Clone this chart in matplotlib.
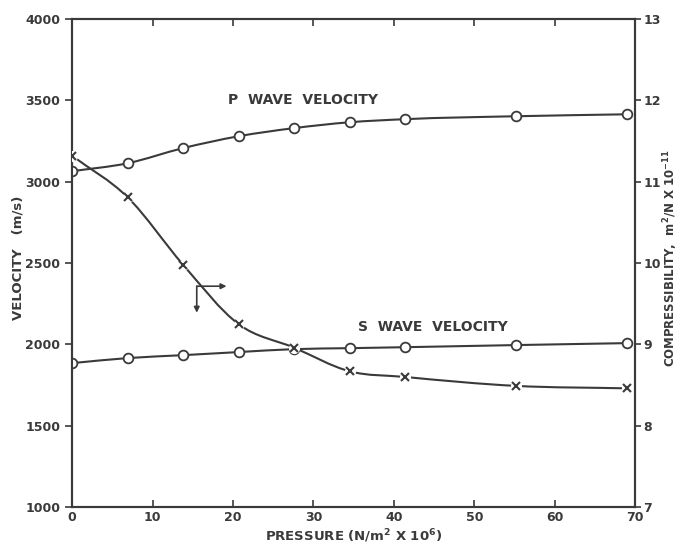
import numpy as np
import matplotlib.pyplot as plt
from matplotlib.path import Path
from matplotlib.patches import PathPatch

# data
pressure = [0, 6.9, 13.8, 20.7, 27.6, 34.5, 41.4, 55.2, 69.0]  # N/m2 x 10^6
p_wave = [3065, 3114, 3207, 3280, 3330, 3366, 3385, 3403, 3415]  # m/s
s_wave = [1885, 1916, 1934, 1953, 1971, 1977, 1983, 1996, 2008]  # m/s
compress = [11.32, 10.81, 9.98, 9.25, 8.96, 8.67, 8.60, 8.49, 8.46]  # m2/N x 10^-11

ink = '#3a3a3a'
plt.rcParams['font.family'] = 'DejaVu Sans'
plt.rcParams['font.weight'] = 'bold'


def smooth_path(x, y):
    # hermite curve through the points (finite-difference slopes), as beziers
    x = np.asarray(x, float)
    y = np.asarray(y, float)
    m = np.gradient(y, x)
    verts = [(x[0], y[0])]
    codes = [Path.MOVETO]
    for i in range(len(x) - 1):
        h = x[i + 1] - x[i]
        verts += [(x[i] + h / 3, y[i] + m[i] * h / 3),
                  (x[i + 1] - h / 3, y[i + 1] - m[i + 1] * h / 3),
                  (x[i + 1], y[i + 1])]
        codes += [Path.CURVE4] * 3
    return Path(verts, codes)


fig = plt.figure(figsize=(6.8, 5.47), dpi=100)
ax = fig.add_axes([0.106, 0.073, 0.828, 0.892])
ax2 = ax.twinx()

# velocity curves
for vals in (p_wave, s_wave):
    ax.add_patch(PathPatch(smooth_path(pressure, vals), fill=False,
                           edgecolor=ink, lw=1.5, zorder=2))
    ax.plot(pressure, vals, linestyle='none', marker='o', ms=7,
            mfc='white', mec=ink, mew=1.3, zorder=4)

# compressibility curve
ax2.add_patch(PathPatch(smooth_path(pressure, compress), fill=False,
                        edgecolor=ink, lw=1.5, zorder=2))
ax2.plot(pressure, compress, linestyle='none', marker='o', ms=8,
         mfc='white', mec='none', zorder=3)
ax2.plot(pressure, compress, linestyle='none', marker='x', ms=6,
         mec=ink, mew=1.5, zorder=5)

ax.set_xlim(0, 70)
ax.set_ylim(1000, 4000)
ax2.set_ylim(7, 13)
ax.set_xticks(range(0, 71, 10))
ax.set_yticks(range(1000, 4001, 500))
ax2.set_yticks(range(7, 14))

ax.tick_params(axis='x', direction='in', top=True, length=5, width=1.2,
               colors=ink, labelsize=9, pad=3)
ax.tick_params(axis='y', direction='out', length=5, width=1.2,
               colors=ink, labelsize=9)
ax2.tick_params(axis='y', direction='out', length=4, width=1.2,
                colors=ink, labelsize=9, pad=2)
for a in (ax, ax2):
    for s in a.spines.values():
        s.set_color(ink)
        s.set_linewidth(1.5)
    for lab in a.get_xticklabels() + a.get_yticklabels():
        lab.set_fontweight('bold')

ax.set_xlabel('PRESSURE (N/m$^\\mathbf{2}$ X 10$^\\mathbf{6}$)', fontsize=9.5,
              fontweight='bold', color=ink)
ax.xaxis.set_label_coords(0.5, -0.06)
ax.xaxis.label.set_va('center')
ax.set_ylabel('VELOCITY   (m/s)', fontsize=9.5, fontweight='bold', color=ink)
ax.yaxis.set_label_coords(-0.096, 0.51)
ax.yaxis.label.set_va('center')
ax2.set_ylabel('COMPRESSIBILITY,  m$^\\mathbf{2}$/N X 10$^\\mathbf{-11}$',
               fontsize=8.5, fontweight='bold', color=ink)
ax2.yaxis.set_label_coords(1.063, 0.51)
ax2.yaxis.label.set_va('center')

ax.text(19.4, 3500, 'P  WAVE  VELOCITY', fontsize=10, fontweight='bold',
        color=ink, va='center', ha='left')
ax.text(35.6, 2106, 'S  WAVE  VELOCITY', fontsize=10, fontweight='bold',
        color=ink, va='center', ha='left')

# arrow pointing to the compressibility axis
ax.annotate('', xy=(19.2, 2358), xytext=(15.5, 2358),
            arrowprops=dict(arrowstyle='-|>', color=ink, lw=1.2,
                            mutation_scale=8, shrinkA=0, shrinkB=0))
ax.annotate('', xy=(15.5, 2195), xytext=(15.5, 2358),
            arrowprops=dict(arrowstyle='-|>', color=ink, lw=1.2,
                            mutation_scale=8, shrinkA=0, shrinkB=0))

fig.savefig('out.png', dpi=100)
